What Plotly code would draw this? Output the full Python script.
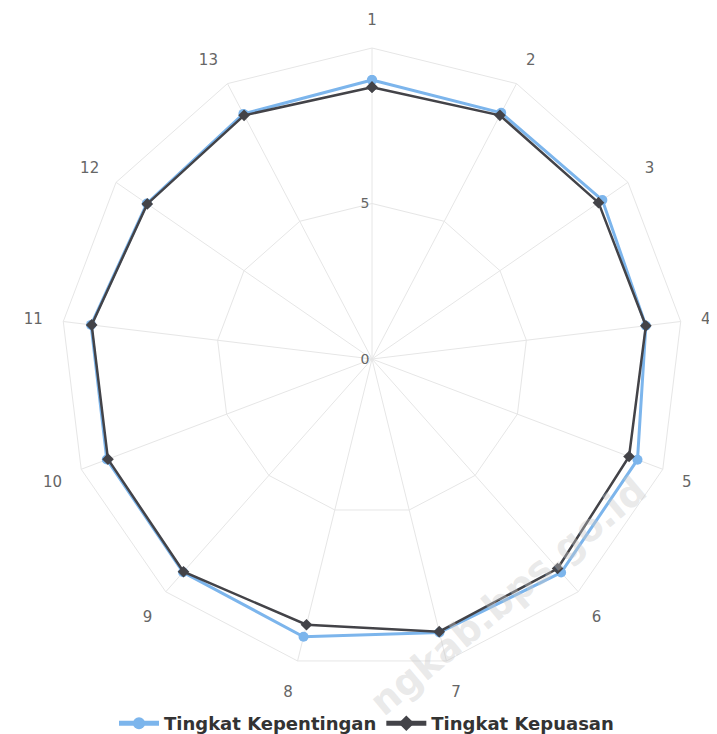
import plotly.graph_objects as go

categories = ["1", "2", "3", "4", "5", "6", "7", "8", "9", "10", "11", "12", "13"]
kepentingan = [8.97, 8.94, 9.0, 8.87, 9.13, 9.17, 9.06, 9.2, 9.16, 9.12, 9.1, 8.8, 8.9]
kepuasan = [8.74, 8.85, 8.85, 8.87, 8.84, 9.0, 9.03, 8.8, 9.14, 9.08, 9.08, 8.78, 8.85]
radial_ticks = [0, 5]

def closed(v):
    return list(v) + [v[0]]

fig = go.Figure()
fig.add_trace(go.Scatterpolar(
    r=closed(kepentingan), theta=closed(categories), name="Tingkat Kepentingan",
    mode="lines+markers",
    line=dict(color="#7cb5ec", width=3),
    marker=dict(symbol="circle", size=10, color="#7cb5ec"),
))
fig.add_trace(go.Scatterpolar(
    r=closed(kepuasan), theta=closed(categories), name="Tingkat Kepuasan",
    mode="lines+markers",
    line=dict(color="#434348", width=2.5),
    marker=dict(symbol="diamond", size=9, color="#434348"),
))

x0, x1 = 53, 675
y0, y1 = 40, 662
fig.update_layout(
    width=717, height=734,
    margin=dict(l=0, r=0, t=0, b=0),
    paper_bgcolor="white",
    font=dict(family="DejaVu Sans", color="#666666", size=13),
    polar=dict(
        domain=dict(x=[x0/717, x1/717], y=[1-y1/734, 1-y0/734]),
        bgcolor="white",
        gridshape="linear",
        angularaxis=dict(
            rotation=90, direction="clockwise",
            categoryorder="array", categoryarray=categories,
            showline=True, linecolor="#e6e6e6", linewidth=1,
            gridcolor="#e6e6e6", ticks="outside", ticklen=17,
            tickcolor="rgba(0,0,0,0)",
            tickfont=dict(size=15, color="#666666"),
        ),
        radialaxis=dict(
            range=[0, 10], tickvals=radial_ticks, angle=90, tickangle=90,
            side="counterclockwise", showline=False, ticks="",
            gridcolor="#e6e6e6",
            tickfont=dict(size=14, color="#666666"),
        ),
    ),
    showlegend=True,
    legend=dict(
        orientation="h", x=0.5, xanchor="center", y=0.0, yanchor="bottom",
        font=dict(size=18, color="#333333", family="DejaVu Sans", weight="bold"),
        itemsizing="constant", itemwidth=40,
    ),
)

fig.add_annotation(
    text="ngkab.bps.go.id", x=500/717, y=1-588/734, xref="paper", yref="paper",
    xanchor="center", yanchor="middle",
    showarrow=False, textangle=-40,
    font=dict(size=38, color="rgba(200,200,200,0.4)", family="DejaVu Sans", weight="bold"),
)

fig.write_html("out.html")
